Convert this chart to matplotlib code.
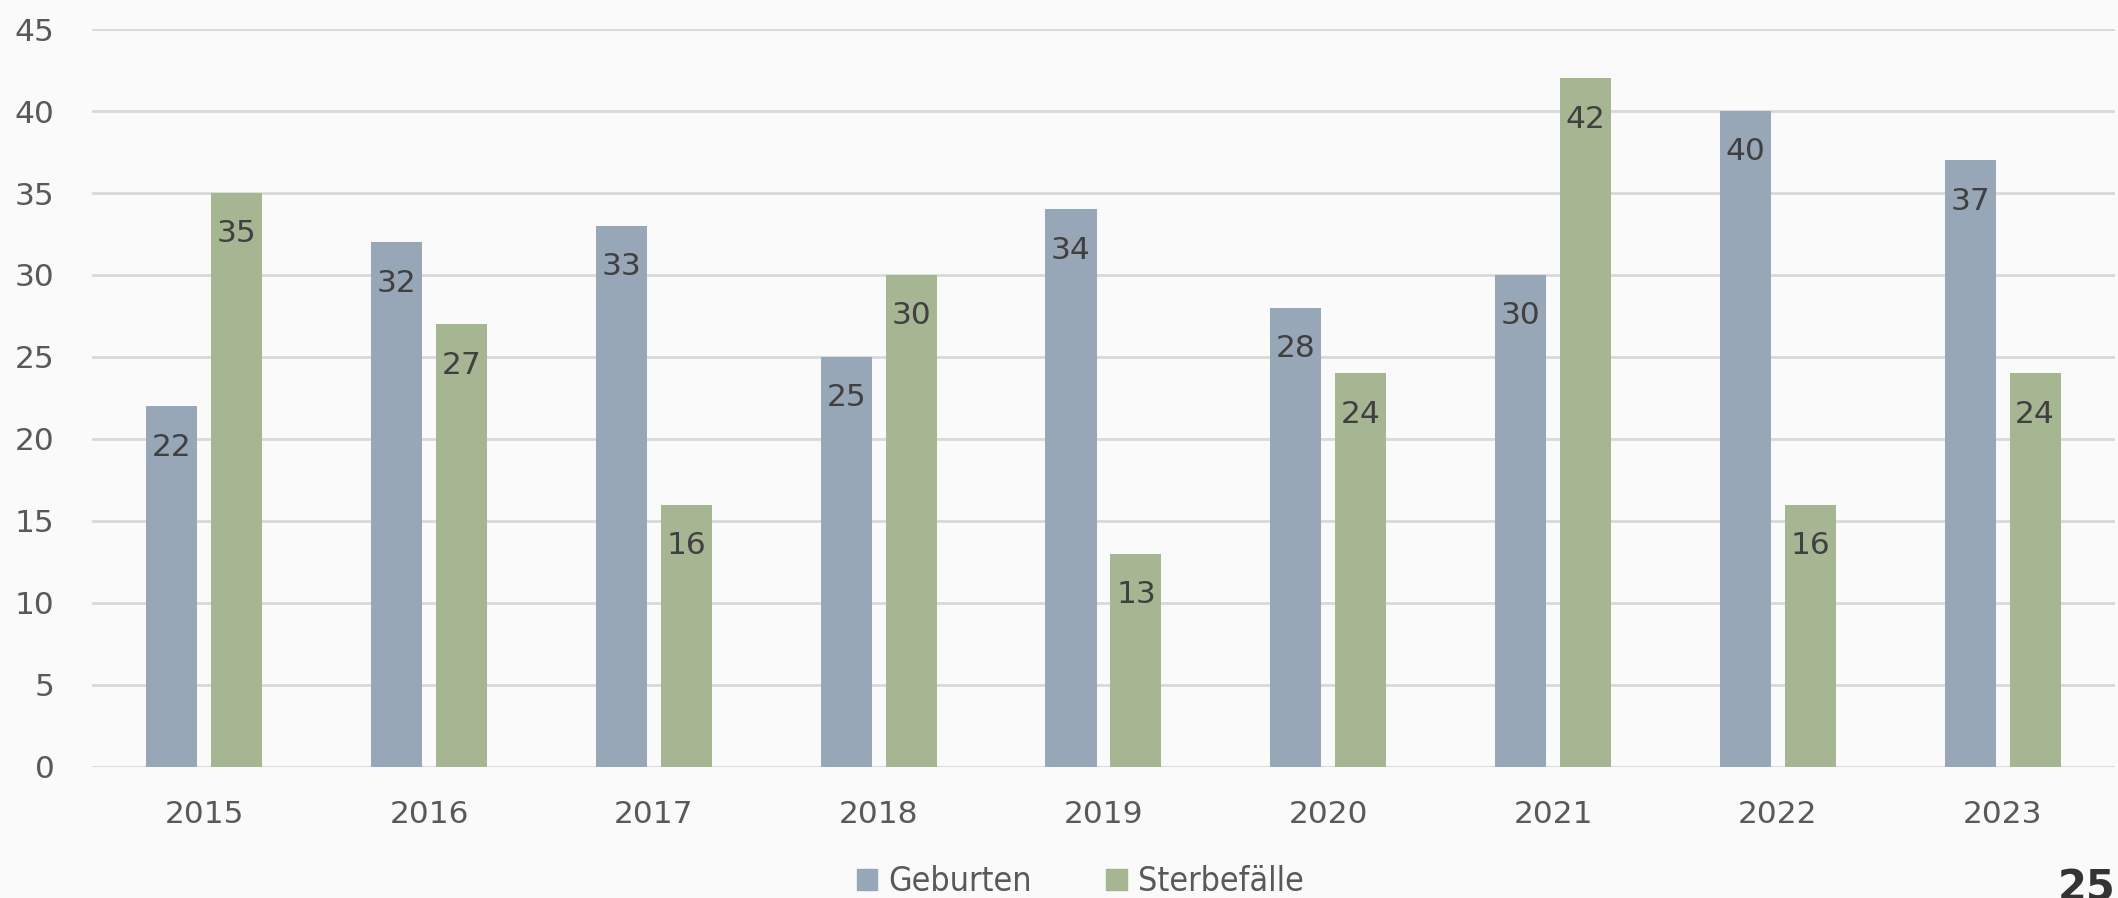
import numpy as np
import matplotlib.pyplot as plt
from matplotlib.patches import Patch

years = ['2015', '2016', '2017', '2018', '2019', '2020', '2021', '2022', '2023']
geburten = [22, 32, 33, 25, 34, 28, 30, 40, 37]
sterbefaelle = [35, 27, 16, 30, 13, 24, 42, 16, 24]

c_geb = '#97A7B8'
c_ster = '#A6B592'
txt = '#595959'

fig = plt.figure(figsize=(21.18, 8.98), dpi=100, facecolor='#FAFAFA')
ax = fig.add_axes([0.0434, 0.1459, 0.9552, 0.8218], facecolor='#FAFAFA')

x = np.arange(len(years))
w = 0.227
b1 = ax.bar(x - 0.1445, geburten, w, color=c_geb, zorder=2)
b2 = ax.bar(x + 0.1445, sterbefaelle, w, color=c_ster, zorder=2)

for bars in (b1, b2):
    for r in bars:
        ax.annotate(f'{int(r.get_height())}', (r.get_x() + r.get_width() / 2, r.get_height()),
                    xytext=(0, -29.5), textcoords='offset points', ha='center', va='center',
                    fontsize=22.5, color='#404040', zorder=3)

ax.set_xlim(-0.5, len(years) - 0.5)
ax.set_ylim(0, 45)
ax.set_yticks(range(0, 46, 5))
ax.set_xticks(x)
ax.set_xticklabels(years)
ax.grid(axis='y', color='#D9D9D9', linewidth=2, zorder=0)
for s in ax.spines.values():
    s.set_visible(False)
ax.tick_params(axis='both', length=0, labelsize=22.5, labelcolor=txt)
ax.tick_params(axis='y', pad=27)
ax.tick_params(axis='x', pad=24)

handles = [Patch(color=c_geb, label='Geburten'), Patch(color=c_ster, label='Sterbefälle')]
leg = fig.legend(handles=handles, loc='center', bbox_to_anchor=(0.51, 0.018), ncol=2,
                 frameon=False, fontsize=24.4, handlelength=0.6, handleheight=0.6,
                 handletextpad=0.33, columnspacing=2.2)
for t in leg.get_texts():
    t.set_color(txt)
    t.set_fontstretch('condensed')

fig.text(0.999, -0.013, '25', ha='right', va='bottom', fontsize=30, fontweight='bold', color='#333333')

fig.savefig('out.png', dpi=100, facecolor=fig.get_facecolor())
